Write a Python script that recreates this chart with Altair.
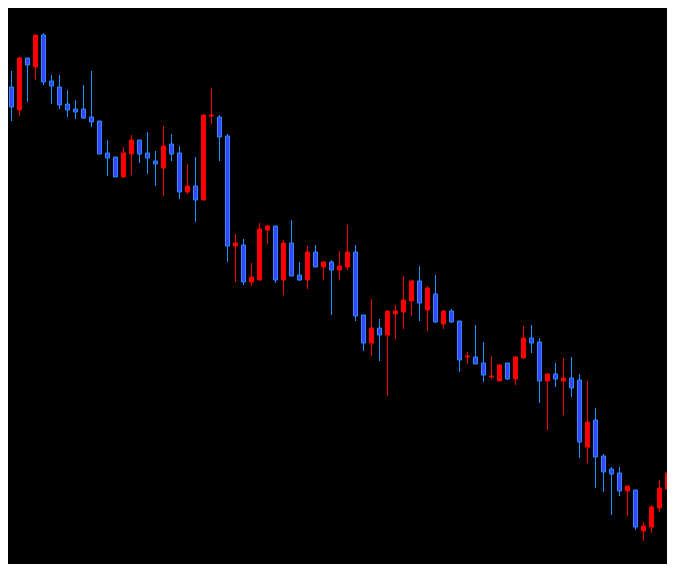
import altair as alt
import pandas as pd

idx = list(range(85))
open_ = [553, 513, 490, 542, 533, 565, 519, 513, 496, 491, 491, 483, 479, 447, 443, 423, 446, 460, 447, 439,
         432, 456, 447, 408, 414, 400, 484, 483, 464, 354, 355, 318, 320, 370, 374, 320, 357, 325, 320, 348,
         333, 338, 330, 333, 348, 285, 257, 272, 265, 286, 288, 299, 319, 290, 306, 276, 289, 279, 243, 243,
         237, 223, 219, 237, 221, 242, 262, 258, 219, 226, 219, 222, 220, 153, 180, 144, 131, 127, 109, 110,
         69, 73, 92, 111, 127]
high = [553, 529, 543, 542, 565, 567, 525, 525, 510, 500, 515, 529, 479, 460, 443, 453, 465, 460, 468, 449,
        474, 466, 454, 436, 443, 486, 512, 485, 466, 366, 361, 337, 377, 375, 374, 360, 380, 338, 354, 355,
        339, 340, 349, 375, 355, 285, 301, 281, 289, 295, 324, 320, 334, 314, 325, 290, 291, 279, 248, 275,
        258, 244, 236, 237, 244, 274, 275, 262, 227, 237, 242, 243, 226, 219, 192, 146, 133, 133, 114, 110,
        78, 95, 120, 149, 127]
low = [500, 479, 484, 498, 520, 515, 496, 491, 483, 481, 481, 473, 446, 424, 423, 423, 425, 437, 426, 414,
       404, 439, 401, 406, 378, 400, 476, 439, 338, 318, 315, 314, 320, 356, 317, 305, 324, 319, 311, 333,
       320, 285, 320, 330, 279, 249, 244, 239, 204, 261, 271, 284, 279, 269, 277, 271, 277, 228, 236, 236,
       218, 221, 219, 220, 215, 242, 247, 197, 170, 213, 185, 203, 142, 137, 112, 108, 85, 104, 84, 70,
       59, 67, 88, 99, 103]
close = [512, 493, 542, 535, 565, 518, 514, 495, 490, 488, 482, 478, 446, 442, 423, 447, 460, 446, 442, 436,
         454, 446, 408, 414, 400, 485, 485, 463, 354, 357, 318, 323, 371, 374, 320, 357, 324, 320, 348, 333,
         338, 330, 334, 348, 284, 257, 272, 265, 289, 289, 300, 319, 297, 312, 278, 289, 278, 240, 244, 236,
         225, 224, 235, 221, 243, 262, 257, 219, 226, 221, 222, 212, 158, 178, 143, 128, 126, 109, 114, 73,
         74, 93, 112, 127, 103]

df = pd.DataFrame({"i": idx, "open": open_, "high": high, "low": low, "close": close})
df["dir"] = ["up" if c >= o else "down" for o, c in zip(open_, close)]

W, H = 659, 556
xs = alt.Scale(domain=[0.5625, 82.9375], nice=False, zero=False, padding=0)
ys = alt.Scale(domain=[36, 592], nice=False, zero=False, padding=0)

fill = alt.Scale(domain=["up", "down"], range=["#FF0000", "#4040FF"])
strk = alt.Scale(domain=["up", "down"], range=["#FF0000", "#1E90FF"])

base = alt.Chart(df).encode(x=alt.X("i:Q", scale=xs, axis=None))

wick = base.mark_rule(strokeWidth=1, clip=True).encode(
    y=alt.Y("low:Q", scale=ys, axis=None),
    y2="high:Q",
    color=alt.Color("dir:N", scale=strk, legend=None),
)

body = base.mark_bar(size=4, strokeWidth=1, clip=True).encode(
    y=alt.Y("open:Q", scale=ys, axis=None),
    y2="close:Q",
    fill=alt.Fill("dir:N", scale=fill, legend=None),
    stroke=alt.Stroke("dir:N", scale=strk, legend=None),
)

chart = alt.layer(wick, body).properties(
    width=W, height=H, background="#000000",
    autosize=alt.AutoSizeParams(type="none"), padding=0,
).configure_view(stroke=None)

chart.save("out.html", embed_options={"renderer": "svg", "actions": False})
